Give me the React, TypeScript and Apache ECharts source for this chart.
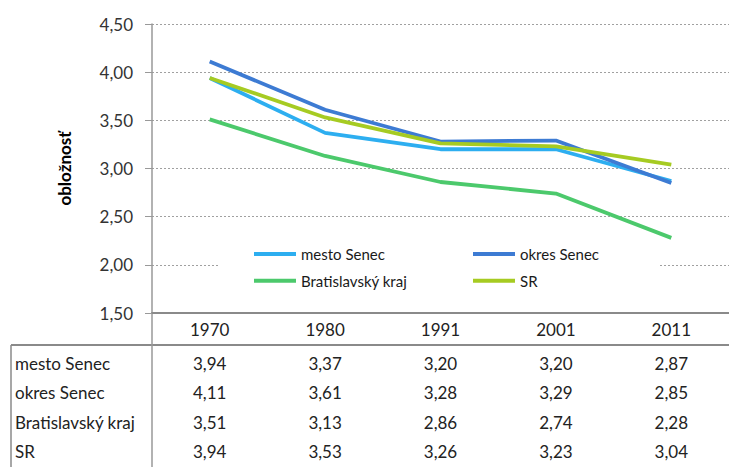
import React, { useEffect, useRef } from "react";
import * as echarts from "echarts";

const years = ["1970", "1980", "1991", "2001", "2011"];
const mestoSenec = [3.94, 3.37, 3.2, 3.2, 2.87];
const okresSenec = [4.11, 3.61, 3.28, 3.29, 2.85];
const bratislavskyKraj = [3.51, 3.13, 2.86, 2.74, 2.28];
const sr = [3.94, 3.53, 3.26, 3.23, 3.04];
const seriesNames = ["mesto Senec", "okres Senec", "Bratislavský kraj", "SR"];
const seriesColors = ["#2DAEF0", "#3D7BD3", "#4CC96C", "#A6CB22"];
const yMin = 1.5;
const yMax = 4.5;
const yStep = 0.5;
const yTitle = "obložnosť";

const FONT = "Lato";
const fmt = (v: number) => v.toFixed(2).replace(".", ",");

export default function App() {
  const ref = useRef<HTMLDivElement>(null);
  useEffect(() => {
    if (!ref.current) return;
    const chart = echarts.init(ref.current, undefined, { renderer: "svg" });
    const rows = [mestoSenec, okresSenec, bratislavskyKraj, sr];
    const rowCenters = [363, 392.5, 422, 451.5];
    const axisY = 313;
    const gridLeft = 152;
    const tableAxes = rows.map((row, i) => ({
      type: "category",
      data: years,
      gridIndex: 0,
      position: "bottom",
      offset: rowCenters[i] - axisY - 8.5,
      axisLine: { show: false },
      axisTick: { show: false },
      splitLine: { show: false },
      axisLabel: {
        margin: 0,
        fontFamily: FONT,
        fontSize: 17,
        color: "#222",
        lineHeight: 17,
        formatter: (_v: string, idx: number) => fmt(row[idx]),
      },
    }));
    const legendCommon = {
      icon: "rect",
      itemWidth: 42,
      itemHeight: 4,
      itemGap: 42,
      orient: "horizontal",
      backgroundColor: "#fff",
      textStyle: {
        fontFamily: FONT,
        fontSize: 15,
        color: "#1a1a1a",
        width: 130,
        lineHeight: 16,
      },
    };
    chart.setOption({
      animation: false,
      grid: { left: gridLeft, top: 24, width: 585, height: 289 },
      legend: [
        {
          ...legendCommon,
          data: [seriesNames[0], seriesNames[1]],
          left: 218,
          top: 238,
          padding: [8, 8, 6, 36],
        },
        {
          ...legendCommon,
          data: [seriesNames[2], seriesNames[3]],
          left: 218,
          top: 264.7,
          padding: [8, 8, 10, 36],
        },
      ],
      xAxis: [
        {
          type: "category",
          data: years,
          boundaryGap: true,
          axisLine: { show: true, lineStyle: { color: "#8a8a8a", width: 2 } },
          axisTick: { show: false },
          axisLabel: {
            margin: 8,
            fontFamily: FONT,
            fontSize: 17,
            color: "#222",
            lineHeight: 17,
          },
        },
        ...tableAxes,
      ],
      yAxis: {
        type: "value",
        min: yMin,
        max: yMax,
        interval: yStep,
        name: yTitle,
        nameLocation: "middle",
        nameRotate: 90,
        nameGap: 79,
        nameTextStyle: {
          fontFamily: FONT,
          fontSize: 17,
          fontWeight: "bold",
          color: "#000",
        },
        axisLine: { show: true, lineStyle: { color: "#999", width: 1.5 } },
        axisTick: { show: true, length: 7, lineStyle: { color: "#999" } },
        axisLabel: {
          margin: 19,
          fontFamily: FONT,
          fontSize: 17,
          color: "#333",
          formatter: (v: number) => fmt(v),
        },
        splitLine: {
          show: true,
          lineStyle: { color: "#a0a0a0", width: 1, type: [2, 2] },
        },
      },
      series: rows.map((row, i) => ({
        type: "line",
        name: seriesNames[i],
        data: row,
        xAxisIndex: 0,
        symbol: "none",
        showSymbol: false,
        color: seriesColors[i],
        lineStyle: { width: 3.8, color: seriesColors[i] },
      })),
      graphic: [
        {
          type: "line",
          shape: { x1: 11, y1: 345, x2: 729, y2: 345 },
          style: { stroke: "#8a8a8a", lineWidth: 2 },
        },
        {
          type: "line",
          shape: { x1: 11, y1: 345, x2: 11, y2: 467 },
          style: { stroke: "#8a8a8a", lineWidth: 1.5 },
        },
        {
          type: "line",
          shape: { x1: gridLeft, y1: axisY, x2: gridLeft, y2: 467 },
          style: { stroke: "#999", lineWidth: 1.5 },
        },
        ...seriesNames.map((n, i) => ({
          type: "text",
          x: 15,
          y: rowCenters[i],
          style: {
            text: n,
            fontFamily: FONT,
            fontSize: 17,
            fill: "#222",
            verticalAlign: "middle",
          },
        })),
      ],
    });
    return () => chart.dispose();
  }, []);
  return (
    <div
      ref={ref}
      style={{ position: "fixed", left: 0, top: 0, width: 729, height: 467, background: "#fff" }}
    />
  );
}
